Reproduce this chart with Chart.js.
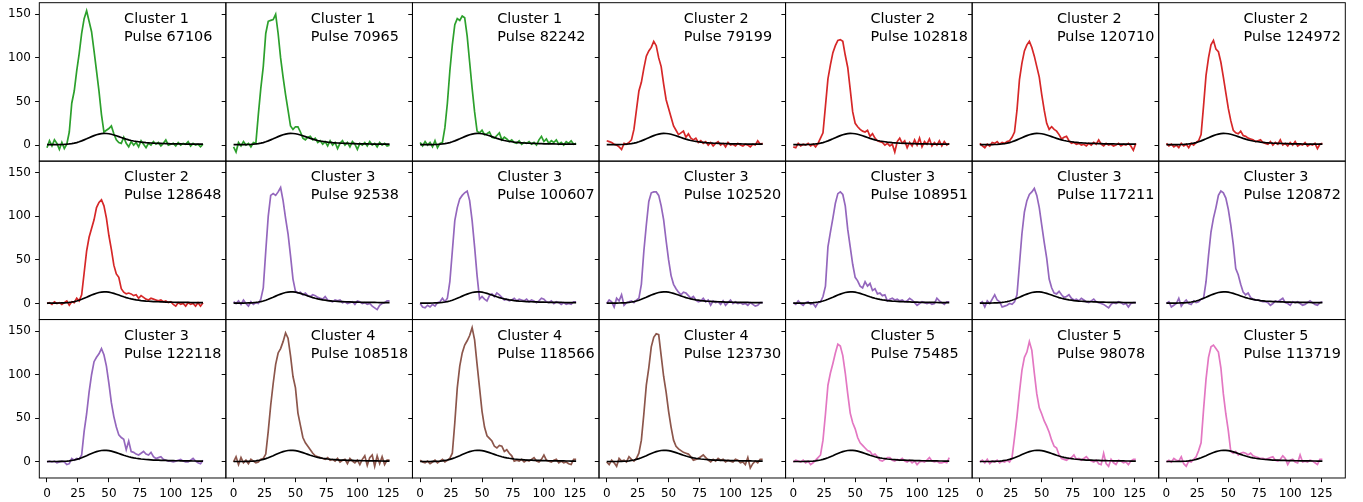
<!DOCTYPE html>
<html><head><meta charset="utf-8">
<script src="https://cdn.jsdelivr.net/npm/chart.js@4.4.1/dist/chart.umd.min.js"></script>
<style>
html,body{margin:0;padding:0;background:#fff;}
#wrap{position:relative;width:1363px;height:502px;overflow:hidden;background:#fff;}
#wrap canvas{position:absolute;left:0;top:0;}
</style></head><body><div id="wrap"></div>
<script>
// ---------------- DATA ----------------
const xs = [0,2,4,6,8,10,12,14,16,18,20,22,24,26,28,30,32,34,36,38,40,42,44,46,48,50,52,54,56,58,60,62,
            64,66,68,70,72,74,76,78,80,82,84,86,88,90,92,94,96,98,100,102,104,106,108,110,112,114,116,118,120,122,124,126];
const xTicks = [0,25,50,75,100,125];
const yTicks = [0,50,100,150];

const template = [0.5,0.5,0.5,0.5,0.5,0.6,0.7,0.8, 1.0,1.3,1.7,2.2,2.9,3.8,4.8,6.0,
  7.2,8.5,9.7,10.8,11.8,12.6,13.1,13.4, 13.3,13.0,12.4,11.6,10.7,9.7,8.7,7.7,
  6.8,6.0,5.3,4.7,4.2,3.8,3.4,3.1, 2.8,2.6,2.4,2.2,2.1,2.0,1.9,1.8,
  1.7,1.6,1.5,1.45,1.4,1.35,1.3,1.25, 1.2,1.2,1.15,1.1,1.1,1.05,1.0,1.0];

const clusters = [1,1,1,2,2,2,2, 2,3,3,3,3,3,3, 3,4,4,4,5,5,5];
const pulseIds = [67106,70965,82242,79199,102818,120710,124972,
                  128648,92538,100607,102520,108951,117211,120872,
                  122118,108518,118566,123730,75485,98078,113719];

const p67106 = [-3,5,-1,6,2,-5,3,-4, 1,15,48,62,85,105,128,145, 154,142,130,108,85,62,35,15, 17,19,22,13,6,3,2,9,
  2,-2,4,0,3,-2,5,1, -3,2,0,4,1,3,-1,2, 6,0,1,2,-1,3,0,2, 1,4,-1,2,0,1,-2,1];
const p70965 = [-2,-8,3,-1,4,0,2,-2, 3,2,35,65,90,128,142,143, 144,150,128,100,78,58,40,22, 18,21,21,15,8,6,9,10,
  6,8,3,5,1,4,-1,5, 0,3,-4,2,5,0,3,-2, 4,1,-5,2,0,3,-1,4, 0,2,-2,3,0,2,-1,0];
const p82242 = [3,-1,4,0,3,-2,5,-3, 2,3,20,48,85,115,138,145, 143,148,146,125,95,65,38,16, 14,17,12,13,15,9,8,11,
  14,6,9,7,4,6,3,2, 5,1,3,2,4,1,3,0, 6,10,4,7,2,5,3,6, 1,3,0,4,2,5,1,2];
const p79199 = [5,4,3,1,0,-2,-5,2, 1,3,6,18,40,62,72,88, 102,108,112,119,114,100,90,70, 52,42,32,22,17,12,14,16,
  9,13,8,6,8,3,5,2, 4,0,3,-1,2,4,0,2, -2,3,0,1,-1,2,0,-1, 1,0,-2,1,0,5,1,2];
const p102818 = [-2,-3,2,-1,1,0,2,-1, 1,-2,2,8,14,45,76,92, 106,114,120,121,119,103,89,64, 38,25,21,18,16,15,17,10,
  13,8,5,4,3,0,2,-1, 1,-8,4,8,2,5,-3,3, -1,6,0,8,-2,4,1,7, -1,3,0,5,-1,4,0,2];
const p120710 = [2,-1,-3,1,-1,3,2,4, 1,3,2,4,5,9,15,40, 75,94,108,115,119,112,102,90, 78,58,40,25,18,21,18,16,
  12,7,9,10,5,2,3,1, 2,0,1,-1,2,0,3,1, 6,1,-1,2,0,1,-1,0, 2,-1,1,0,2,-1,-6,2];
const p124972 = [2,-1,1,-2,0,-3,2,-1, 1,-3,2,0,3,5,12,45, 80,100,115,120,110,107,95,78, 60,42,28,17,14,13,16,11,
  10,8,7,6,4,5,6,3, 2,1,4,0,3,1,6,0, 2,-1,3,0,4,-1,1,0, 3,-1,1,0,2,-4,1,2];
const p128648 = [0,1,-1,2,0,1,-1,1, 3,-2,2,1,6,3,10,35, 60,76,86,96,110,116,119,112, 98,78,62,44,34,30,17,13,
  11,12,11,9,10,6,9,7, 5,4,6,5,4,3,4,2, 3,1,2,-1,-3,1,-1,0, -3,1,-1,0,-3,1,-3,1];
const p92538 = [2,0,3,-1,4,0,-3,2, -1,1,0,5,18,60,100,124, 126,124,128,133,118,98,80,55, 28,14,12,13,10,12,9,8,
  10,9,7,6,5,8,4,3, 2,4,3,4,1,2,0,1, 2,-1,3,2,0,1,-1,0, -3,-5,-7,-2,0,1,3,3];
const p100607 = [0,-4,-5,-2,-4,-1,-3,1, 2,6,2,6,25,60,95,110, 120,124,127,129,118,95,65,32, 5,8,5,3,9,11,8,12,
  10,7,4,5,3,4,6,3, 5,4,3,5,2,4,3,1, 3,6,5,2,1,3,0,2, 1,-1,1,-1,0,-1,2,2];
const p102520 = [0,4,2,-4,6,3,10,-2, 1,2,3,1,4,6,22,60, 90,117,127,128,128,124,112,96, 72,50,32,22,17,13,10,13,
  12,9,6,8,4,2,3,6, 2,4,-2,3,1,2,-1,3, -2,1,4,0,2,0,1,-1, 0,-2,1,-1,-3,-2,1,1];
const p108951 = [1,-1,3,0,-2,1,2,-1, 0,-4,1,2,8,20,65,82, 98,115,126,128,125,112,85,65, 45,30,26,20,18,25,20,23,
  15,17,11,12,9,10,3,5, 6,4,5,3,4,2,3,6, 4,1,-2,0,2,1,0,1, -1,0,6,3,1,-1,2,2];
const p117211 = [0,2,-4,3,0,5,10,4, 2,-4,-3,-2,0,-1,2,10, 45,80,105,118,125,128,132,124, 110,90,70,52,28,18,12,11,
  14,10,7,8,10,6,4,5, 3,6,4,2,1,3,5,2, 1,0,-1,-3,-5,-1,1,0, 2,1,-1,0,-4,0,1,1];
const p120872 = [0,2,-4,-2,0,6,-3,1, 4,0,-1,3,1,2,5,6, 25,55,82,98,110,124,129,127, 121,108,90,68,40,33,22,13,
  10,12,7,5,4,4,3,2, 2,1,-2,0,3,2,4,6, 1,0,-2,2,1,2,0,-2, -1,1,3,1,-1,-2,1,2];
const p122118 = [0,1,0,1,-1,0,1,0, -3,-2,4,2,4,3,8,35, 55,80,100,115,120,124,130,123, 110,90,68,52,40,31,28,26,
  14,24,12,11,9,8,10,12, 9,8,11,6,4,5,6,3, 2,1,1,0,1,2,3,1, 0,0,2,4,1,-1,-2,2];
const p108518 = [0,6,-3,5,-1,2,-2,3, 1,-1,0,3,4,9,35,65, 90,112,125,130,138,148,142,122, 98,85,56,42,28,22,18,14,
  10,7,6,5,4,3,5,2, 3,1,4,0,2,3,-2,4, 1,-1,2,-3,3,7,-4,5, 8,-5,7,-2,6,-3,2,2];
const p118566 = [2,0,-1,1,-2,0,2,-1, 1,3,0,2,4,10,45,85, 110,125,134,139,145,154,140,112, 85,58,40,30,27,24,18,16,
  19,18,12,14,10,7,1,2, 1,3,0,2,1,3,5,1, 0,3,8,2,1,0,2,3, -1,1,-1,0,-2,-3,3,3];
const p123730 = [0,-3,2,-1,-5,4,1,2, 0,6,3,1,4,10,25,55, 88,108,132,143,147,146,122,98, 80,58,40,25,18,15,13,11,
  10,9,6,2,3,4,6,8, 5,2,0,3,1,4,2,3, 0,2,1,0,3,2,-1,0, -3,5,-7,-2,1,-1,3,3];
const p75485 = [0,2,1,0,2,-1,1,-3, -1,2,5,8,25,55,88,102, 113,125,135,133,122,102,78,56, 45,38,28,22,19,16,13,12,
  8,9,6,2,1,3,5,5, 2,1,3,2,4,1,0,2, -1,1,-3,0,1,0,2,5, 1,0,1,-1,-1,0,-1,5];
const p98078 = [0,2,-1,3,-2,1,0,2, -1,1,0,2,0,5,28,52, 80,105,120,126,138,128,102,78, 62,55,47,41,34,25,18,16,
  8,4,3,2,4,5,8,3, 4,2,4,6,3,1,0,2, -2,-3,10,-2,-5,3,-1,-3, 2,1,-1,0,-3,1,3,3];
const p113719 = [0,2,0,4,2,1,6,-2, -5,1,0,3,6,13,22,60, 95,120,132,134,130,126,108,78, 55,36,12,10,12,8,10,11,
  10,8,10,7,6,5,4,4, 3,4,5,6,2,1,3,7, 4,-3,2,3,0,-1,8,0, 1,0,2,1,-1,-3,3,3];

const pulses = [p67106,p70965,p82242,p79199,p102818,p120710,p124972,
                p128648,p92538,p100607,p102520,p108951,p117211,p120872,
                p122118,p108518,p118566,p123730,p75485,p98078,p113719];

// ---------------- LAYOUT / STYLE ----------------
const W = 1363, H = 502;
const GL = 39.3, GT = 2.7, PW = 186.57, PH = 158.43, NC = 7, NR = 3;
const X_MIN = -6.22, X_MAX = 144.5, Y_MIN = -18.4, Y_MAX = 163.3;
const clusterColor = {1:'#2ca02c', 2:'#d62728', 3:'#9467bd', 4:'#8c564b', 5:'#e377c2'};
const FONT = "'DejaVu Sans', 'Liberation Sans', sans-serif";

const panelDeco = {
  id: 'panelDeco',
  afterDraw(chart, args, opts) {
    const {ctx, chartArea: a} = chart;
    ctx.save();
    ctx.strokeStyle = '#000';
    ctx.lineWidth = 0.96;
    ctx.strokeRect(a.left, a.top, a.right - a.left, a.bottom - a.top);
    ctx.fillStyle = '#000';
    ctx.font = '14.4px ' + FONT;
    ctx.textAlign = 'left';
    ctx.textBaseline = 'alphabetic';
    ctx.fillText(opts.line1, a.left + 84.8, a.top + 20.3);
    ctx.fillText(opts.line2, a.left + 84.8, a.top + 38.0);
    ctx.restore();
  }
};

const wrap = document.getElementById('wrap');
for (let i = 0; i < pulses.length; i++) {
  const r = Math.floor(i / NC), c = i % NC;
  const left = GL + c * PW, right = left + PW;
  const top = GT + r * PH, bottom = top + PH;
  const isBottom = r === NR - 1, isLeft = c === 0;
  const cv = document.createElement('canvas');
  cv.width = W; cv.height = H;
  cv.style.width = W + 'px'; cv.style.height = H + 'px';
  wrap.appendChild(cv);
  const col = clusterColor[clusters[i]];
  new Chart(cv, {
    type: 'line',
    data: {
      datasets: [
        {data: xs.map((x, k) => ({x: x, y: template[k]})), borderColor: '#000', borderWidth: 1.7,
         pointRadius: 0, tension: 0, fill: false},
        {data: xs.map((x, k) => ({x: x, y: pulses[i][k]})), borderColor: col, borderWidth: 1.7,
         pointRadius: 0, tension: 0, fill: false}
      ]
    },
    options: {
      responsive: false, animation: false, devicePixelRatio: 1, events: [],
      layout: {padding: {left: 0, top: top, right: W - right, bottom: 0}},
      plugins: {
        legend: {display: false}, tooltip: {enabled: false},
        panelDeco: {line1: 'Cluster ' + clusters[i], line2: 'Pulse ' + pulseIds[i]}
      },
      scales: {
        x: {
          type: 'linear', min: X_MIN, max: X_MAX,
          afterBuildTicks: s => { s.ticks = xTicks.map(v => ({value: v})); },
          afterFit: s => { s.height = H - bottom; s.paddingLeft = 0; s.paddingRight = 0; },
          border: {display: false},
          grid: {display: isBottom, drawOnChartArea: false, drawTicks: true, tickLength: 4.2, color: '#000', lineWidth: 0.96},
          ticks: {display: isBottom, padding: 4.2, color: '#000', autoSkip: false, maxRotation: 0,
                  font: {family: FONT, size: 12}}
        },
        y: {
          type: 'linear', min: Y_MIN, max: Y_MAX,
          afterBuildTicks: s => { s.ticks = yTicks.map(v => ({value: v})); },
          afterFit: s => { s.width = left; s.paddingTop = 0; s.paddingBottom = 0; },
          border: {display: false},
          grid: {display: true, drawOnChartArea: false, drawTicks: true, tickLength: 4.2, color: '#000', lineWidth: 0.96},
          ticks: {display: isLeft, padding: 4.2, color: '#000', autoSkip: false,
                  font: {family: FONT, size: 12}}
        }
      }
    },
    plugins: [panelDeco]
  });
}
</script></body></html>
